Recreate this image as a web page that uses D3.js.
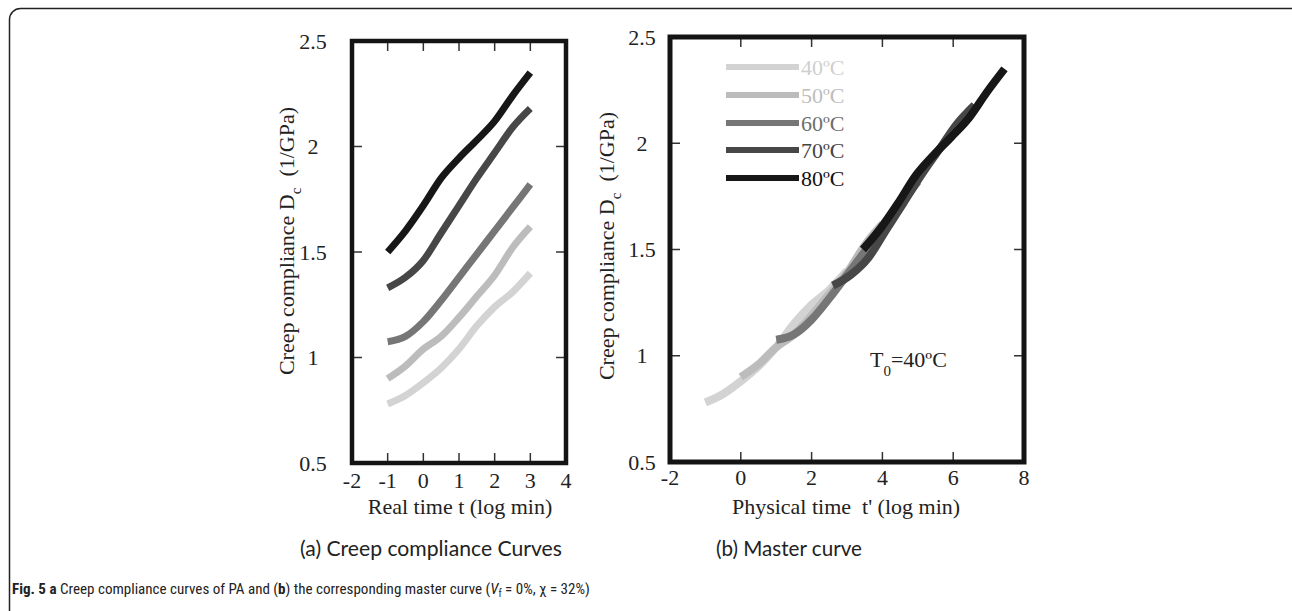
<!DOCTYPE html>
<html><head><meta charset="utf-8">
<script src="https://cdn.jsdelivr.net/npm/d3@7"></script>
<style>body{margin:0;background:#fff} svg{display:block}</style>
</head><body>
<svg id="c" width="1292" height="611"></svg>
<script>
// ---- data ----
const realTime = [-1, -0.5, 0, 0.5, 1, 1.5, 2, 2.5, 3];
const temps = ["40ºC", "50ºC", "60ºC", "70ºC", "80ºC"];
const d40 = [0.78, 0.82, 0.88, 0.95, 1.04, 1.15, 1.24, 1.31, 1.40];
const d50 = [0.90, 0.96, 1.04, 1.10, 1.19, 1.29, 1.39, 1.52, 1.62];
const d60 = [1.075, 1.10, 1.17, 1.27, 1.38, 1.49, 1.60, 1.71, 1.82];
const d70 = [1.33, 1.38, 1.46, 1.59, 1.72, 1.85, 1.97, 2.09, 2.18];
const d80 = [1.50, 1.60, 1.72, 1.85, 1.945, 2.03, 2.12, 2.24, 2.35];
const shiftFactors = [0, 1.0, 2.0, 3.6, 4.45];   // log aT (shift to T0 = 40ºC)
const xTicksA = [-2, -1, 0, 1, 2, 3, 4];
const xTicksB = [-2, 0, 2, 4, 6, 8];
const yTicks = [0.5, 1, 1.5, 2, 2.5];
const yTickLabels = ["0.5", "1", "1.5", "2", "2.5"];

const series = [d40, d50, d60, d70, d80];
const colors = ["#d3d3d3", "#bcbcbc", "#767676", "#474747", "#171717"];
const textColors = ["#cfcfcf", "#bdbdbd", "#6e6e6e", "#444", "#111"];

const svg = d3.select("#c");
const serif = "'Liberation Serif','Times New Roman',serif";

// outer rounded frame
svg.append("rect").attr("x", 9.5).attr("y", 8.5).attr("width", 1300).attr("height", 620)
  .attr("rx", 11).attr("fill", "none").attr("stroke", "#222").attr("stroke-width", 1.5);

function panel(o) {
  const g = svg.append("g");
  const x = d3.scaleLinear().domain(o.xDomain).range([o.x0, o.x1]);
  const y = d3.scaleLinear().domain([0.5, 2.5]).range([o.y1, o.y0]);
  const line = d3.line().x(d => x(d[0])).y(d => y(d[1])).curve(d3.curveMonotoneX);

  series.forEach((s, i) => {
    const shift = o.shift ? shiftFactors[i] : 0;
    const pts = realTime.map((t, k) => [t + shift, s[k]]);
    g.append("path").attr("d", line(pts)).attr("fill", "none")
      .attr("stroke", colors[i]).attr("stroke-width", o.lw)
      .attr("stroke-linecap", "butt").attr("stroke-linejoin", "round");
  });

  // inner ticks
  const tl = 10;
  const innerX = o.xTicks.filter(t => t > o.xDomain[0] && t < o.xDomain[1]);
  const innerY = yTicks.filter(t => t > 0.5 && t < 2.5);
  innerX.forEach(t => {
    g.append("line").attr("x1", x(t)).attr("x2", x(t)).attr("y1", o.y0).attr("y2", o.y0 + tl)
      .attr("stroke", "#333").attr("stroke-width", 1.5);
    g.append("line").attr("x1", x(t)).attr("x2", x(t)).attr("y1", o.y1).attr("y2", o.y1 - tl)
      .attr("stroke", "#333").attr("stroke-width", 1.5);
  });
  innerY.forEach(t => {
    g.append("line").attr("x1", o.x0).attr("x2", o.x0 + tl).attr("y1", y(t)).attr("y2", y(t))
      .attr("stroke", "#333").attr("stroke-width", 1.5);
    g.append("line").attr("x1", o.x1).attr("x2", o.x1 - tl).attr("y1", y(t)).attr("y2", y(t))
      .attr("stroke", "#333").attr("stroke-width", 1.5);
  });

  // frame
  g.append("rect").attr("x", o.x0).attr("y", o.y0).attr("width", o.x1 - o.x0).attr("height", o.y1 - o.y0)
    .attr("fill", "none").attr("stroke", "#141414").attr("stroke-width", o.fw);

  // tick labels
  o.xTicks.forEach(t => {
    g.append("text").attr("x", x(t)).attr("y", o.xLabY).attr("text-anchor", "middle")
      .attr("font-family", serif).attr("font-size", 22).attr("fill", "#222").text(t);
  });
  yTicks.forEach((t, i) => {
    g.append("text").attr("x", o.yLabX).attr("y", y(t) + 7.5).attr("text-anchor", "middle")
      .attr("font-family", serif).attr("font-size", 22).attr("fill", "#222").text(yTickLabels[i]);
  });

  // x title
  g.append("text").attr("x", o.xTitleX).attr("y", 514).attr("text-anchor", "middle")
    .attr("font-family", serif).attr("font-size", 22).attr("fill", "#222")
    .text(o.xTitle);

  // y title
  const yt = g.append("text").attr("transform", `translate(${o.yTitleX},${o.yTitleY}) rotate(-90)`)
    .attr("text-anchor", "middle").attr("font-family", serif).attr("font-size", 22).attr("fill", "#222");
  yt.append("tspan").text("Creep compliance D");
  yt.append("tspan").attr("font-size", 15).attr("dy", 7).text("c");
  yt.append("tspan").attr("dy", -7).text("\u00A0\u00A0(1/GPa)");
  return {x, y, g};
}

panel({x0: 352, x1: 566, y0: 41, y1: 463, xDomain: [-2, 4], xTicks: xTicksA, lw: 7, fw: 4.5,
  shift: false, xLabY: 488, yLabX: 313, xTitle: "Real time t (log min)", xTitleX: 460,
  yTitleX: 294, yTitleY: 241});

panel({x0: 670, x1: 1024, y0: 37, y1: 462, xDomain: [-2, 8], xTicks: xTicksB, lw: 8, fw: 5,
  shift: true, xLabY: 485, yLabX: 642, xTitle: "Physical time\u00A0\u00A0t' (log min)", xTitleX: 846,
  yTitleX: 614, yTitleY: 246});

// legend
const legY = [67, 95, 123, 150, 178];
temps.forEach((t, i) => {
  svg.append("line").attr("x1", 726).attr("x2", 799).attr("y1", legY[i]).attr("y2", legY[i])
    .attr("stroke", colors[i]).attr("stroke-width", 6);
  svg.append("text").attr("x", 801).attr("y", legY[i] + 7.5).attr("font-family", serif)
    .attr("font-size", 22).attr("fill", textColors[i]).text(t);
});

// T0 label
const t0 = svg.append("text").attr("x", 870).attr("y", 367).attr("font-family", serif)
  .attr("font-size", 22).attr("fill", "#222");
t0.append("tspan").text("T");
t0.append("tspan").attr("font-size", 15).attr("dy", 9).text("0");
t0.append("tspan").attr("dy", -9).text("=40ºC");

// panel captions
function fitText(sel, w) {
  const cur = sel.node().getComputedTextLength();
  const fs = parseFloat(sel.attr("font-size"));
  sel.attr("font-size", fs * w / cur);
}
const capFont = "Lato,'Noto Sans',sans-serif";
const ca = svg.append("text").attr("x", 300).attr("y", 556).attr("font-family", capFont)
  .attr("font-size", 24).attr("fill", "#222").text("(a) Creep compliance Curves");
fitText(ca, 262);
const cb = svg.append("text").attr("x", 716).attr("y", 556).attr("font-family", capFont)
  .attr("font-size", 24).attr("fill", "#222").text("(b) Master curve");
fitText(cb, 146);

// figure caption
const cap = svg.append("text").attr("x", 12).attr("y", 594)
  .attr("font-family", "'Liberation Sans Narrow','Roboto Condensed',Roboto,sans-serif")
  .attr("font-size", 15).attr("fill", "#222");
cap.append("tspan").attr("font-weight", "bold").text("Fig. 5 a");
cap.append("tspan").text(" Creep compliance curves of PA and (");
cap.append("tspan").attr("font-weight", "bold").text("b");
cap.append("tspan").text(") the corresponding master curve (");
cap.append("tspan").attr("font-style", "italic").text("V");
cap.append("tspan").attr("font-size", 10).attr("dy", 3).text("f");
cap.append("tspan").attr("dy", -3).text("\u00A0=\u00A00%, χ\u00A0=\u00A032%)");
fitText(cap, 578);
</script>
</body></html>
